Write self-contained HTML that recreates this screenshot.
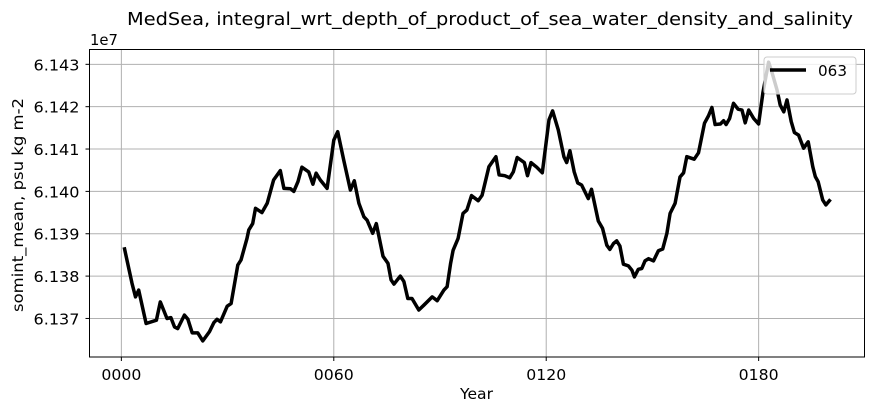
<!DOCTYPE html>
<html><head><meta charset="utf-8"><style>
body{margin:0;background:#fff;}
svg text{font-family:"DejaVu Sans","Liberation Sans",sans-serif;fill:#000;}
</style></head><body>
<svg id="chart" width="874" height="412" xmlns="http://www.w3.org/2000/svg">
<text x="127" y="25" font-size="18" textLength="726" lengthAdjust="spacingAndGlyphs">MedSea, integral_wrt_depth_of_product_of_sea_water_density_and_salinity</text>
<text x="90" y="45" font-size="15" textLength="28" lengthAdjust="spacingAndGlyphs">1e7</text>
<text transform="translate(23,312) rotate(-90)" font-size="15" textLength="214" lengthAdjust="spacingAndGlyphs">somint_mean, psu kg m-2</text>
<text x="460" y="399" font-size="15" textLength="33" lengthAdjust="spacingAndGlyphs">Year</text>
<g id="grid"></g>
<g id="ticks"></g>
<g id="series"></g>
<rect x="89.5" y="49.5" width="775" height="307.5" fill="none" stroke="#000" stroke-width="1"/>
<g>
<rect x="764" y="57" width="92" height="37" rx="3" fill="#fff" fill-opacity="0.8" stroke="#ccc"/>
<line x1="770" y1="70" x2="806" y2="70" stroke="#000" stroke-width="3.5"/>
<text x="818" y="76" font-size="15" textLength="29" lengthAdjust="spacingAndGlyphs">063</text>
</g>
</svg>
<script>
const years=[0.8,3.0,4.0,4.9,7.0,9.9,11.0,12.9,14.0,15.0,15.9,17.8,18.8,20.0,21.6,23.0,24.9,26.1,27.0,28.0,29.9,31.0,32.9,33.8,35.5,36.0,37.1,37.9,39.7,41.2,43.0,44.9,45.9,47.8,48.7,49.9,51.0,52.9,54.1,55.0,56.2,58.1,60.0,61.1,62.8,64.7,65.8,67.1,68.5,69.4,71.0,72.0,73.9,75.3,76.2,77.0,78.8,79.8,80.9,82.1,84.0,85.4,87.8,89.2,91.1,92.0,93.0,93.7,95.1,96.5,97.6,98.9,100.8,101.9,103.8,105.8,106.7,108.3,109.7,110.7,111.8,113.8,114.7,115.7,117.3,118.9,120.8,121.8,123.4,125.0,125.8,126.7,127.9,128.9,130.0,131.9,132.8,134.7,135.9,137.1,138.0,139.0,139.9,140.8,141.8,143.2,144.2,144.9,146.0,147.0,147.9,148.9,150.3,151.7,152.9,154.1,155.0,156.4,157.8,158.8,159.7,161.8,163.0,164.7,165.8,166.8,167.7,169.2,170.1,170.8,171.8,172.9,174.2,175.3,176.2,177.2,178.6,180.0,181.2,182.8,183.8,185.2,186.1,187.1,188.0,189.2,190.1,191.3,192.7,194.0,195.3,196.0,196.8,198.1,199.0,200.3];
const values=[6.13868,6.13783,6.13751,6.13767,6.13688,6.13696,6.13739,6.13700,6.13702,6.13680,6.13676,6.13708,6.13698,6.13666,6.13666,6.13647,6.13669,6.13690,6.13698,6.13692,6.13729,6.13735,6.13826,6.13838,6.13889,6.13909,6.13924,6.13960,6.13950,6.13972,6.14027,6.14049,6.14007,6.14006,6.14000,6.14023,6.14057,6.14046,6.14017,6.14043,6.14027,6.14007,6.14121,6.14141,6.14074,6.14003,6.14025,6.13972,6.13940,6.13932,6.13901,6.13924,6.13847,6.13830,6.13791,6.13781,6.13800,6.13787,6.13747,6.13747,6.13720,6.13731,6.13751,6.13742,6.13767,6.13775,6.13830,6.13861,6.13889,6.13948,6.13956,6.13990,6.13978,6.13991,6.14058,6.14082,6.14039,6.14037,6.14032,6.14046,6.14080,6.14068,6.14037,6.14068,6.14057,6.14044,6.14169,6.14190,6.14145,6.14082,6.14068,6.14096,6.14046,6.14020,6.14015,6.13983,6.14005,6.13930,6.13913,6.13873,6.13863,6.13877,6.13883,6.13871,6.13828,6.13824,6.13814,6.13798,6.13816,6.13818,6.13836,6.13841,6.13836,6.13860,6.13864,6.13901,6.13948,6.13972,6.14034,6.14044,6.14082,6.14076,6.14091,6.14161,6.14178,6.14198,6.14158,6.14159,6.14167,6.14158,6.14172,6.14208,6.14194,6.14192,6.14162,6.14192,6.14172,6.14159,6.14233,6.14305,6.14280,6.14239,6.14204,6.14188,6.14216,6.14165,6.14139,6.14133,6.14102,6.14117,6.14058,6.14035,6.14023,6.13980,6.13968,6.13981];
const xTicks=[0,60,120,180];
const xTickLabels=["0000","0060","0120","0180"];
const yTicks=[6.137,6.138,6.139,6.140,6.141,6.142,6.143];
const yTickLabels=["6.137","6.138","6.139","6.140","6.141","6.142","6.143"];

const X0=89.5,X1=864.5,Y0=49.5,Y1=357;
const xMin=-9.0,xMax=209.9,yMin=6.13609,yMax=6.14335;
function sx(v){return X0+(v-xMin)/(xMax-xMin)*(X1-X0);}
function sy(v){return Y1-(v-yMin)/(yMax-yMin)*(Y1-Y0);}
const NS="http://www.w3.org/2000/svg";
const grid=document.getElementById('grid'),ticks=document.getElementById('ticks'),series=document.getElementById('series');
function mk(tag,attrs,parent){const e=document.createElementNS(NS,tag);for(const k in attrs)e.setAttribute(k,attrs[k]);parent.appendChild(e);return e;}
xTicks.forEach((t,i)=>{
  const x=sx(t);
  const g=mk('line',{x1:x,x2:x,y1:Y0,y2:Y1,stroke:'#b0b0b0','stroke-width':1},grid);
  
  
  const tk=mk('line',{x1:x,x2:x,y1:Y1,y2:Y1+4,stroke:'#000'},ticks);
  
  
  const tx=mk('text',{x:x-20,y:Y1+23,'font-size':15,textLength:40,lengthAdjust:'spacingAndGlyphs'},ticks);
  tx.textContent=xTickLabels[i];
  
  
});
yTicks.forEach((t,i)=>{
  const y=sy(t);
  const g=mk('line',{x1:X0,x2:X1,y1:y,y2:y,stroke:'#b0b0b0','stroke-width':1},grid);
  
  
  const tk=mk('line',{x1:X0-4,x2:X0,y1:y,y2:y,stroke:'#000'},ticks);
  
  
  const tx=mk('text',{x:X0-56,y:y+6,'font-size':15,textLength:46,lengthAdjust:'spacingAndGlyphs'},ticks);
  tx.textContent=yTickLabels[i];
  
  
});
const d=years.map((yr,i)=>(i?'L':'M')+sx(yr).toFixed(1)+','+sy(values[i]).toFixed(1)).join(' ');
const p=mk('path',{d:d,fill:'none',stroke:'#000','stroke-width':3.5,'stroke-linejoin':'round'},series);


</script>
</body></html>
